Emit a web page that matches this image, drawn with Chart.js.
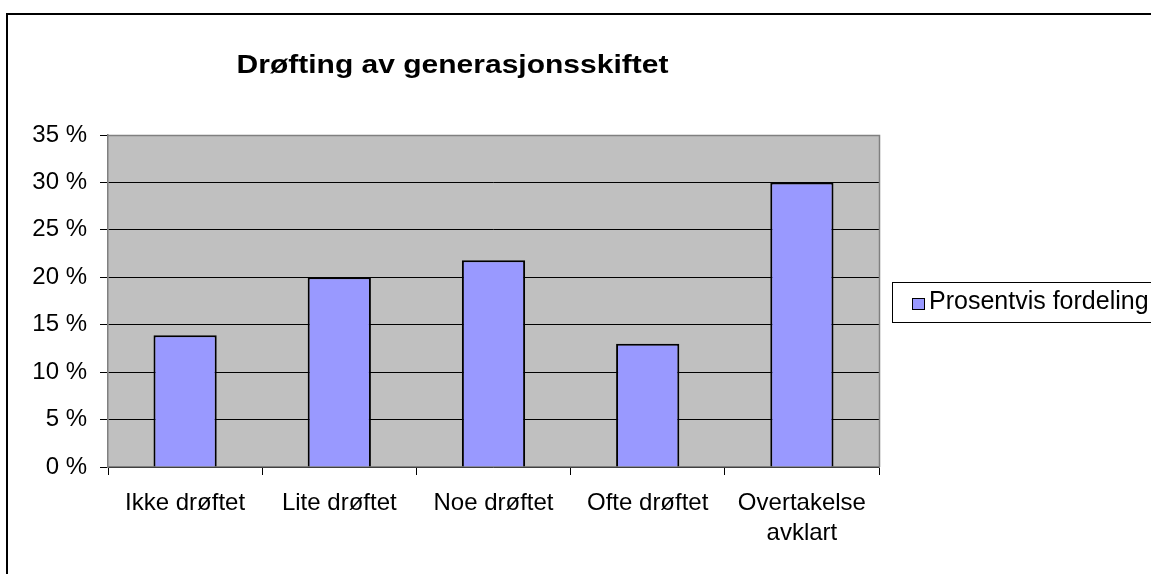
<!DOCTYPE html>
<html>
<head>
<meta charset="utf-8">
<script src="https://cdn.jsdelivr.net/npm/chart.js@4/dist/chart.umd.min.js"></script>
<style>
html,body{margin:0;padding:0;background:#fff;}
#wrap{width:1151px;height:574px;position:relative;}
canvas{display:block;}
</style>
</head>
<body>
<div id="wrap"><canvas id="c" width="1151" height="574"></canvas></div>
<script>
const titleText = "Drøfting av generasjonsskiftet";
const seriesName = "Prosentvis fordeling";
const categories = ["Ikke drøftet", "Lite drøftet", "Noe drøftet", "Ofte drøftet", ["Overtakelse", "avklart"]];
const values = [13.9, 20.0, 21.8, 13.0, 30.0];
const yTicks = [0, 5, 10, 15, 20, 25, 30, 35];

const FONT = '"Liberation Sans", Arial, sans-serif';

const decor = {
  id: 'decor',
  beforeDraw(chart) {
    const ctx = chart.ctx, a = chart.chartArea;
    ctx.save();
    ctx.fillStyle = '#fff';
    ctx.fillRect(0, 0, chart.width, chart.height);
    ctx.strokeStyle = '#000';
    ctx.lineWidth = 2;
    ctx.strokeRect(7, 14, chart.width + 20, chart.height + 20);
    ctx.fillStyle = '#C0C0C0';
    ctx.fillRect(a.left, a.top, a.right - a.left, a.bottom - a.top);
    ctx.restore();
  },
  afterDraw(chart) {
    const ctx = chart.ctx, a = chart.chartArea;
    ctx.save();
    ctx.strokeStyle = '#808080';
    ctx.lineWidth = 1.5;
    ctx.beginPath();
    ctx.moveTo(a.left, a.top + 0.5);
    ctx.lineTo(a.right + 0.5, a.top + 0.5);
    ctx.lineTo(a.right + 0.5, a.bottom);
    ctx.stroke();
    // title
    ctx.save();
    ctx.translate(452.5, 73);
    ctx.scale(1.2, 1);
    ctx.fillStyle = '#000';
    ctx.font = 'bold 25px ' + FONT;
    ctx.textAlign = 'center';
    ctx.textBaseline = 'alphabetic';
    ctx.fillText(titleText, 0, 0);
    ctx.restore();
    // legend
    ctx.strokeStyle = '#000';
    ctx.lineWidth = 1;
    ctx.strokeRect(892.5, 282.5, 300, 40);
    ctx.fillStyle = '#9999FF';
    ctx.fillRect(912, 298, 12, 11);
    ctx.strokeRect(912.5, 298.5, 12, 11);
    ctx.fillStyle = '#000';
    ctx.font = '25px ' + FONT;
    ctx.textAlign = 'left';
    ctx.textBaseline = 'alphabetic';
    ctx.fillText(seriesName, 929, 309);
    ctx.restore();
  }
};

new Chart(document.getElementById('c'), {
  type: 'bar',
  data: {
    labels: categories,
    datasets: [{
      label: seriesName,
      data: values,
      backgroundColor: '#9999FF',
      borderColor: '#000',
      borderWidth: 2,
      barPercentage: 0.41,
      categoryPercentage: 1
    }]
  },
  options: {
    responsive: false,
    animation: false,
    devicePixelRatio: 1,
    layout: { padding: { left: 0, top: 135, right: 272, bottom: 0 } },
    plugins: { legend: { display: false }, title: { display: false }, tooltip: { enabled: false } },
    scales: {
      x: {
        grid: { offset: true, drawOnChartArea: false, drawTicks: true, tickLength: 8, color: '#000', tickColor: '#000' },
        border: { color: '#808080', width: 1.5 },
        ticks: { color: '#000', font: { family: FONT, size: 24, lineHeight: 1.25 }, padding: 13, maxRotation: 0, autoSkip: false },
        afterFit(s) { s.height = 107; }
      },
      y: {
        min: 0, max: 35,
        afterBuildTicks(s) { s.ticks = yTicks.map(v => ({ value: v })); },
        grid: { color: '#000', tickLength: 8, tickColor: '#000', lineWidth: 1 },
        border: { color: '#808080', width: 1.5 },
        ticks: { color: '#000', font: { family: FONT, size: 24 }, padding: 13, callback: v => v + ' %' },
        afterFit(s) { s.width = 108; }
      }
    }
  },
  plugins: [decor]
});
</script>
</body>
</html>
